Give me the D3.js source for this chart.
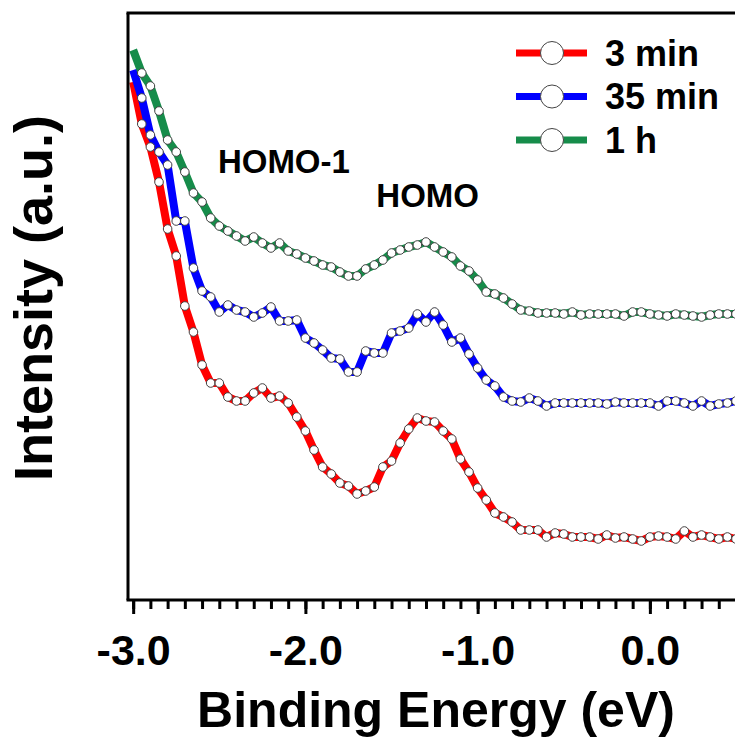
<!DOCTYPE html>
<html>
<head>
<meta charset="utf-8">
<script src="https://cdn.jsdelivr.net/npm/d3@7"></script>
<style>
  html, body { margin: 0; padding: 0; background: #fff; }
  svg { display: block; font-family: "Liberation Sans", Arial, sans-serif; font-weight: bold; }
</style>
</head>
<body>
<svg id="chart" width="735" height="738"></svg>
<script>
// Binding energy grid (eV), one point every 0.05 eV
const ENERGY = d3.range(71).map(i => +(-3 + i * 0.05).toFixed(2));

// Intensities (a.u.), one value per energy
const SERIES_3MIN = [
  51.8, 47.6, 45.3, 41.8, 37.1, 34.4, 29.4, 26.8, 23.5, 21.7,
  21.7, 20.3, 19.9, 19.9, 20.7, 21.2, 20.2, 20.4, 19.7, 18.3,
  16.9, 15.0, 13.3, 12.6, 11.7, 11.4, 10.6, 10.9, 11.3, 13.3,
  13.9, 15.7, 17.1, 18.2, 17.9, 17.8, 16.9, 16.1, 14.1, 12.8,
  11.2, 10.0, 8.7, 8.3, 7.8, 7.0, 7.0, 7.0, 6.3, 6.7,
  6.6, 6.3, 6.3, 6.3, 6.1, 6.5, 6.2, 6.3, 6.1, 5.9,
  6.3, 6.4, 6.3, 6.1, 6.9, 6.3, 6.5, 6.3, 6.1, 6.3, 6.1
];
const SERIES_35MIN = [
  53.0, 50.2, 46.5, 44.8, 43.5, 37.9, 37.9, 33.2, 30.9, 30.3,
  28.8, 29.5, 29.0, 28.8, 28.3, 28.7, 29.3, 27.9, 27.9, 28.0,
  26.2, 25.7, 25.0, 24.2, 24.1, 22.8, 22.8, 24.9, 24.7, 24.7,
  26.7, 26.9, 27.2, 28.6, 27.8, 28.8, 27.5, 25.8, 26.2, 24.6,
  23.2, 22.0, 21.4, 20.3, 19.9, 19.8, 20.2, 19.9, 19.4, 19.7,
  19.7, 19.7, 19.7, 19.7, 19.7, 19.6, 19.8, 19.7, 19.7, 19.7,
  19.7, 19.4, 19.9, 19.9, 19.7, 19.4, 19.9, 19.4, 19.6, 19.7, 19.9
];
const SERIES_1H = [
  55.0, 52.7, 51.4, 48.9, 46.0, 44.8, 42.8, 40.7, 39.8, 38.2,
  37.4, 36.9, 36.4, 35.9, 36.3, 35.7, 35.2, 35.7, 34.9, 34.6,
  34.2, 33.9, 33.5, 33.3, 32.8, 32.4, 32.4, 33.1, 33.5, 34.0,
  34.7, 35.0, 35.3, 35.5, 35.8, 35.3, 34.8, 34.3, 33.4, 32.9,
  32.0, 30.8, 30.6, 30.2, 29.6, 29.0, 28.9, 28.7, 28.7, 28.7,
  28.6, 28.8, 28.5, 28.6, 28.6, 28.6, 28.6, 28.4, 28.8, 28.8,
  28.6, 28.5, 28.4, 28.6, 28.5, 28.4, 28.3, 28.5, 28.6, 28.6, 28.6
];

const SERIES_NAMES = ["3 min", "35 min", "1 h"];
const SERIES_COLORS = ["#ff0000", "#0000ff", "#168c4a"];
const SERIES_VALUES = [SERIES_3MIN, SERIES_35MIN, SERIES_1H];

const MAJOR_TICKS = [-3, -2, -1, 0];
const TICK_LABELS = ["-3.0", "-2.0", "-1.0", "0.0"];
const MINOR_TICKS = d3.range(-30, 6).map(i => i / 10);

// Peak annotations in data coordinates
const PEAK_LABELS = ["HOMO-1", "HOMO"];
const PEAK_ENERGY = [-2.125, -1.29];
const PEAK_LEVEL = [42.7, 39.3];

const svg = d3.select("#chart");
const width = 735, height = 738;
const MARGIN = { top: 13, bottom: 600, left: 128 };

const xScale = d3.scaleLinear().domain([-3.03, 0.5]).range([MARGIN.left, 736]);
const yScale = d3.scaleLinear().domain([0, 58.7]).range([MARGIN.bottom, MARGIN.top]);

//Curves first, frame drawn over them
const line = d3.line()
  .x(d => xScale(d.e))
  .y(d => yScale(d.v));

const series = SERIES_VALUES.map((vals, k) => ({
  name: SERIES_NAMES[k],
  color: SERIES_COLORS[k],
  points: ENERGY.map((e, i) => ({ e: e, v: vals[i] }))
}));

const plot = svg.append("g");

plot.selectAll(".curve")
  .data(series)
  .enter()
  .append("path")
  .attr("class", "curve")
  .attr("fill", "none")
  .attr("stroke", d => d.color)
  .attr("stroke-width", 8)
  .attr("stroke-linejoin", "round")
  .attr("d", d => line(d.points));

series.forEach(s => {
  plot.append("g")
    .selectAll("circle")
    .data(s.points.slice(1))
    .enter()
    .append("circle")
    .attr("cx", d => xScale(d.e))
    .attr("cy", d => yScale(d.v))
    .attr("r", 4.3)
    .attr("fill", "#fff")
    .attr("stroke", "#444")
    .attr("stroke-width", 1);
});

//Frame: left and top lines
svg.append("line")
  .attr("x1", MARGIN.left).attr("x2", MARGIN.left)
  .attr("y1", MARGIN.top).attr("y2", MARGIN.bottom)
  .attr("stroke", "#000").attr("stroke-width", 3);
svg.append("line")
  .attr("x1", MARGIN.left - 1.5).attr("x2", width)
  .attr("y1", MARGIN.top).attr("y2", MARGIN.top)
  .attr("stroke", "#000").attr("stroke-width", 3);

//Bottom axis: minor ticks, then majors with labels
const minorAxis = d3.axisBottom(xScale)
  .tickValues(MINOR_TICKS)
  .tickSize(9)
  .tickFormat("");

const majorAxis = d3.axisBottom(xScale)
  .tickValues(MAJOR_TICKS)
  .tickSize(14)
  .tickPadding(20)
  .tickFormat((d, i) => TICK_LABELS[i]);

const gMinor = svg.append("g")
  .attr("transform", `translate(0,${MARGIN.bottom})`)
  .call(minorAxis);
gMinor.select(".domain").remove();
gMinor.selectAll("line").attr("stroke", "#000").attr("stroke-width", 3);

const gMajor = svg.append("g")
  .attr("transform", `translate(0,${MARGIN.bottom})`)
  .call(majorAxis);
gMajor.select(".domain").remove();
gMajor.selectAll("line").attr("stroke", "#000").attr("stroke-width", 3);
gMajor.selectAll("text")
  .attr("fill", "#000")
  .style("font-size", "43px")
  .style("font-weight", "bold")
  .style("font-family", "'Liberation Sans', Arial, sans-serif");

svg.append("line")
  .attr("x1", MARGIN.left - 1.5).attr("x2", width)
  .attr("y1", MARGIN.bottom).attr("y2", MARGIN.bottom)
  .attr("stroke", "#000").attr("stroke-width", 3);

//Axis titles
svg.append("text")
  .attr("x", 436)
  .attr("y", 727)
  .attr("text-anchor", "middle")
  .style("font-size", "50px")
  .text("Binding Energy (eV)");

svg.append("text")
  .attr("transform", "translate(52,298) rotate(-90)")
  .attr("text-anchor", "middle")
  .style("font-size", "54px")
  .text("Intensity (a.u.)");

//Peak labels
svg.selectAll(".peak")
  .data(PEAK_LABELS)
  .enter()
  .append("text")
  .attr("class", "peak")
  .attr("x", (d, i) => xScale(PEAK_ENERGY[i]))
  .attr("y", (d, i) => yScale(PEAK_LEVEL[i]))
  .attr("text-anchor", "middle")
  .style("font-size", "33px")
  .text(d => d);

//Legend
const legend = svg.append("g").attr("transform", "translate(516,53)");
const rows = legend.selectAll(".row")
  .data(series)
  .enter()
  .append("g")
  .attr("class", "row")
  .attr("transform", (d, i) => `translate(0,${i * 43.5})`);

rows.append("line")
  .attr("x1", 0).attr("x2", 71)
  .attr("stroke", d => d.color)
  .attr("stroke-width", 7);
rows.append("circle")
  .attr("cx", 36)
  .attr("r", 11.5)
  .attr("fill", "#fff")
  .attr("stroke", "#444")
  .attr("stroke-width", 1);
rows.append("text")
  .attr("x", 89)
  .attr("y", 12.5)
  .style("font-size", "36px")
  .text(d => d.name);
</script>
</body>
</html>
